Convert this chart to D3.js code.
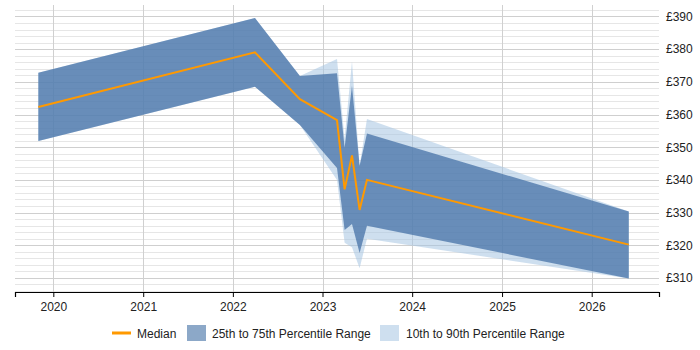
<!DOCTYPE html>
<html>
<head>
<meta charset="utf-8">
<script src="https://cdn.jsdelivr.net/npm/d3@7"></script>
<style>
  body { margin: 0; background: #fff; }
  svg text { font-family: "Liberation Sans", Arial, sans-serif; font-size: 12px; fill: #222; }
</style>
</head>
<body>
<div id="chart"></div>
<script>
// data (monthly points)
var dates   = ["2019-11-01", "2022-04-01", "2022-10-01", "2023-03-01", "2023-04-01", "2023-05-01", "2023-06-01", "2023-07-01", "2026-06-01"];
var median  = [362.3, 379.0, 364.7, 358.3, 337.1, 347.5, 330.8, 340.0, 320.2];
var p25     = [351.9, 368.5, 356.8, 343.6, 324.7, 326.5, 317.6, 326.0, 309.8];
var p75     = [372.8, 389.5, 371.8, 372.6, 349.8, 368.8, 344.3, 354.2, 330.3];
var p10     = [351.9, 368.5, 356.8, 340.0, 320.8, 319.4, 313.0, 322.0, 309.8];
var p90     = [372.8, 389.5, 371.8, 377.0, 352.6, 376.2, 344.3, 358.6, 330.3];
var yearTicks = [2020, 2021, 2022, 2023, 2024, 2025, 2026];
var priceTicks = [310, 320, 330, 340, 350, 360, 370, 380, 390];

var parseDate = d3.utcParse("%Y-%m-%d");

var data = dates.map(function(d, i) {
    return { date: parseDate(d), med: median[i], lo25: p25[i], hi75: p75[i], lo10: p10[i], hi90: p90[i] };
});

var width = 700, height = 350;
var plot = { left: 15, right: 659, top: 5, bottom: 292 };

var svg = d3.select("#chart").append("svg")
    .attr("width", width)
    .attr("height", height);

// scales
var x = d3.scaleUtc()
    .domain([Date.UTC(2019, 6, 29), Date.UTC(2026, 9, 2)])
    .range([plot.left, plot.right]);

var y = d3.scaleLinear()
    .domain([305.7, 393.5])
    .range([plot.bottom, plot.top]);

// grid lines
var minor = d3.range(306, 394, 2).filter(function(v) { return v % 10 !== 0; });
svg.append("g").selectAll("line")
    .data(minor)
    .enter().append("line")
    .attr("x1", plot.left).attr("x2", plot.right)
    .attr("y1", d => Math.round(y(d)) + 0.5).attr("y2", d => Math.round(y(d)) + 0.5)
    .attr("stroke", "#e6e6e6");

svg.append("g").selectAll("line")
    .data(priceTicks)
    .enter().append("line")
    .attr("x1", plot.left).attr("x2", plot.right)
    .attr("y1", d => Math.round(y(d)) + 0.5).attr("y2", d => Math.round(y(d)) + 0.5)
    .attr("stroke", "#cfcfcf");

svg.append("g").selectAll("line")
    .data(yearTicks)
    .enter().append("line")
    .attr("x1", d => Math.round(x(Date.UTC(d, 0, 1))) + 0.5)
    .attr("x2", d => Math.round(x(Date.UTC(d, 0, 1))) + 0.5)
    .attr("y1", plot.top).attr("y2", plot.bottom)
    .attr("stroke", "#d0d0d0");

// bands
var area10 = d3.area()
    .x(d => x(d.date))
    .y0(d => y(d.lo10))
    .y1(d => y(d.hi90));

var area25 = d3.area()
    .x(d => x(d.date))
    .y0(d => y(d.lo25))
    .y1(d => y(d.hi75));

svg.append("path")
    .datum(data)
    .attr("d", area10)
    .attr("fill", "#a6c4e2")
    .attr("fill-opacity", 0.55);

svg.append("path")
    .datum(data)
    .attr("d", area25)
    .attr("fill", "#4572a7")
    .attr("fill-opacity", 0.75);

// median
var line = d3.line()
    .x(d => x(d.date))
    .y(d => y(d.med));

svg.append("path")
    .datum(data)
    .attr("d", line)
    .attr("fill", "none")
    .attr("stroke", "#ff9900")
    .attr("stroke-width", 2);

// x axis
var xAxis = d3.axisBottom(x)
    .tickValues(yearTicks.map(function(yr) { return new Date(Date.UTC(yr, 0, 1)); }))
    .tickFormat(d3.utcFormat("%Y"))
    .tickSizeOuter(0)
    .tickSize(5)
    .tickPadding(5);

var gx = svg.append("g")
    .attr("transform", "translate(0," + plot.bottom + ")")
    .call(xAxis);
gx.select(".domain").attr("stroke", "#000").attr("stroke-width", 1.2);
gx.selectAll(".tick line").attr("stroke", "#000");
gx.selectAll("text").style("font-size", "12px").attr("fill", "#222");

// y axis on the right, labels only
var yAxis = d3.axisRight(y)
    .tickValues(priceTicks)
    .tickFormat(d => "£" + d)
    .tickSize(0)
    .tickPadding(7);

var gy = svg.append("g")
    .attr("transform", "translate(" + plot.right + ",0)")
    .call(yAxis);
gy.select(".domain").remove();
gy.selectAll("text").style("font-size", "12px").attr("fill", "#222");

// legend
var legend = svg.append("g").attr("transform", "translate(0,333)");

legend.append("line")
    .attr("x1", 112).attr("x2", 131)
    .attr("y1", 0).attr("y2", 0)
    .attr("stroke", "#ff9900")
    .attr("stroke-width", 3);
legend.append("text").attr("x", 137).attr("y", 4.5).text("Median");

legend.append("rect")
    .attr("x", 187).attr("y", -8).attr("width", 19).attr("height", 16)
    .attr("fill", "#4572a7").attr("fill-opacity", 0.62);
legend.append("text").attr("x", 212).attr("y", 4.5).text("25th to 75th Percentile Range");

legend.append("rect")
    .attr("x", 380).attr("y", -8).attr("width", 19).attr("height", 16)
    .attr("fill", "#a6c4e2").attr("fill-opacity", 0.55);
legend.append("text").attr("x", 406).attr("y", 4.5).text("10th to 90th Percentile Range");
</script>
</body>
</html>
